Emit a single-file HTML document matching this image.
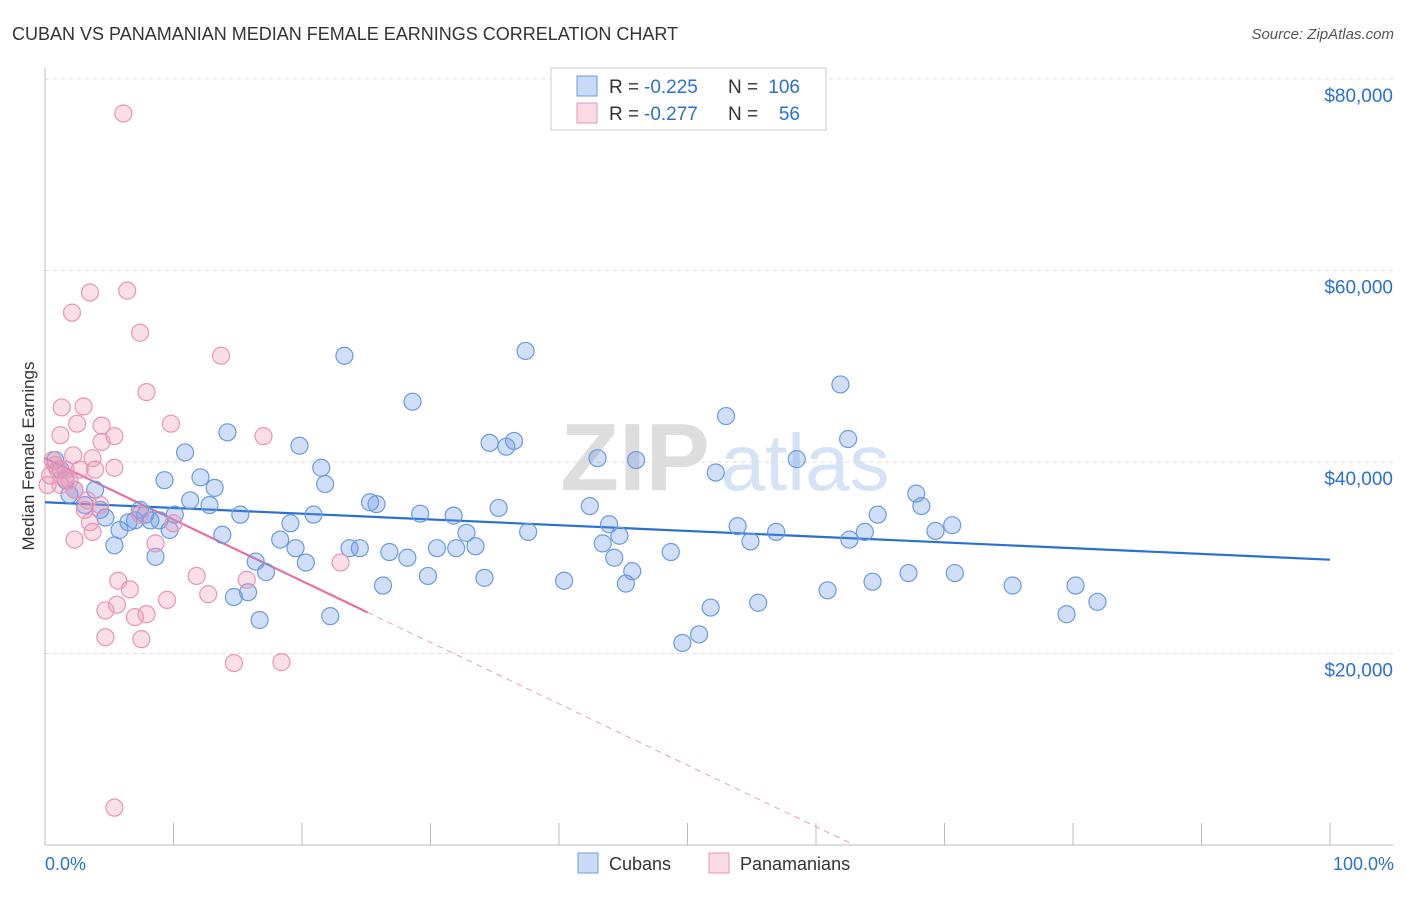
<!DOCTYPE html>
<html><head><meta charset="utf-8"><style>
body{margin:0;background:#fff;font-family:"Liberation Sans",sans-serif;}
svg text{font-family:"Liberation Sans",sans-serif;}
</style></head><body>
<svg id="chart" width="1406" height="892" xmlns="http://www.w3.org/2000/svg">
<text x="12" y="40" font-size="18" fill="#333">CUBAN VS PANAMANIAN MEDIAN FEMALE EARNINGS CORRELATION CHART</text>
<text x="1394" y="39" font-size="15" fill="#555" text-anchor="end" font-style="italic">Source: ZipAtlas.com</text>
<text transform="translate(34,456) rotate(-90)" font-size="17" fill="#333" text-anchor="middle">Median Female Earnings</text>
<g font-size="96" text-anchor="middle">
<text x="635" y="490" fill="#ddd" font-family="Liberation Serif" font-weight="bold">ZIP</text>
<text x="805" y="490" fill="#d4e3f6" font-size="80">atlas</text>
</g>
<g id="grid"></g><g id="axes"></g><g id="lines"></g><g id="pts"></g>
<g font-size="19">
<rect x="551" y="68" width="275" height="62" fill="#fff" stroke="#ccc"/>
<rect x="577" y="76" width="20" height="20" fill="rgba(100,150,230,0.35)" stroke="#6a9be0"/>
<rect x="577" y="103" width="20" height="20" fill="rgba(240,150,180,0.35)" stroke="#e994b4"/>
<text x="609" y="93" fill="#333">R =</text>
<text x="644" y="93" fill="#2a6fd6">-0.225</text>
<text x="728" y="93" fill="#333">N =</text>
<text x="800" y="93" fill="#2a6fd6" text-anchor="end">106</text>
<text x="609" y="120" fill="#333">R =</text>
<text x="644" y="120" fill="#2a6fd6">-0.277</text>
<text x="728" y="120" fill="#333">N =</text>
<text x="800" y="120" fill="#2a6fd6" text-anchor="end">56</text>
</g>
<g>
<rect x="578" y="853" width="20" height="20" fill="rgba(100,150,230,0.35)" stroke="#6a9be0"/>
<text x="609" y="870" font-size="18" fill="#333">Cubans</text>
<rect x="709" y="853" width="20" height="20" fill="rgba(240,150,180,0.35)" stroke="#e994b4"/>
<text x="740" y="870" font-size="18" fill="#333">Panamanians</text>
</g>
</svg>
<script>
const yTicks=[20000,40000,60000,80000];
const yTickLabels=["$20,000","$40,000","$60,000","$80,000"];
const xTickLabels=["0.0%","100.0%"];
const cubanX=[0.8,1.2,1.6,1.9,2.3,3.1,3.9,4.3,4.7,5.4,5.8,6.5,7.0,7.4,7.8,8.2,8.6,8.9,9.3,9.7,10.1,10.9,11.3,12.1,12.8,13.2,13.8,14.2,14.7,15.2,15.8,16.4,16.7,17.2,18.3,19.1,19.5,19.8,20.3,20.9,21.5,21.8,22.2,23.3,23.7,24.5,25.3,25.8,26.3,26.8,28.2,28.6,29.2,29.8,30.5,31.8,32.0,32.8,33.5,34.2,34.6,35.3,35.9,36.5,37.4,37.6,40.4,42.4,43.0,43.4,43.9,44.3,44.7,45.2,45.7,46.0,48.7,49.6,50.9,51.8,52.2,53.0,53.9,54.9,55.5,56.9,58.5,60.9,61.9,62.5,62.6,63.8,64.4,64.8,67.2,67.8,68.2,69.3,70.6,70.8,75.3,79.5,80.2,81.9];
const cubanY=[40200,39200,38100,36600,37100,35500,37100,35000,34200,31300,32900,33700,33900,35000,34500,33900,30100,33900,38100,32900,34500,41000,36000,38400,35500,37300,32400,43100,25900,34500,26400,29600,23500,28500,31900,33600,31000,41700,29500,34500,39400,37700,23900,51100,31000,31000,35800,35600,27100,30600,30000,46300,34600,28100,31000,34400,31000,32600,31200,27900,42000,35200,41600,42200,51600,32700,27600,35400,40400,31500,33500,30000,32300,27300,28600,40200,30600,21100,22000,24800,38900,44800,33300,31700,25300,32700,40300,26600,48100,42400,31900,32700,27500,34500,28400,36700,35400,32800,33400,28400,27100,24100,27100,25400];
const panX=[6.1,3.5,6.4,2.1,7.4,13.7,7.9,1.3,3.0,9.8,2.5,4.4,5.4,17.0,4.4,1.2,3.7,2.2,2.7,5.4,0.8,0.4,1.2,2.3,3.3,1.6,1.9,4.3,3.5,3.7,7.4,10.0,2.3,8.6,11.8,5.7,15.7,6.6,12.7,9.5,5.6,4.7,7.9,7.0,23.0,4.7,7.5,14.7,18.4,5.4,0.6,1.0,0.2,1.6,3.1,3.9];
const panY=[76400,57700,57900,55600,53500,51100,47300,45700,45800,44000,44000,43800,42700,42700,42100,42800,40400,40700,39200,39400,39700,38600,37600,37100,36000,39200,38100,35500,33700,32700,34500,33600,31900,31500,28100,27600,27700,26700,26200,25600,25100,24500,24100,23800,29500,21700,21500,19000,19100,3900,40200,39200,37600,38300,35000,39200];
const cubanTrend=[35800,29800];
const panTrend=[40400,24300];
const panTrendEndX=25.1;

const NS="http://www.w3.org/2000/svg";
const X0=45,X1=1330,Y0=845,YPER=191.5/20000;
const sx=v=>X0+(X1-X0)*v/100, sy=v=>Y0-v*YPER;
function mk(tag,attrs,parent){const e=document.createElementNS(NS,tag);for(const k in attrs)e.setAttribute(k,attrs[k]);document.getElementById(parent).appendChild(e);return e;}
yTicks.forEach((t,i)=>{
 const g=mk('line',{x1:X0,x2:1393,y1:sy(t),y2:sy(t),stroke:'#ddd','stroke-dasharray':'4,4'},'grid');
 
 
 const l=mk('text',{x:1393,y:sy(t)+23,'font-size':19,fill:'#2a6fd6','text-anchor':'end'},'grid');
 l.textContent=yTickLabels[i];
 
 
});
mk('line',{x1:X0,x2:X0,y1:68,y2:Y0,stroke:'#bbb'},'axes');
mk('line',{x1:X0,x2:1393,y1:Y0,y2:Y0,stroke:'#bbb'},'axes');
for(let i=0;i<=10;i++){const t=mk('line',{x1:sx(i*10),x2:sx(i*10),y1:823,y2:Y0,stroke:'#bbb'},'axes');
 
 }
[[0,'start',45],[100,'end',1394]].forEach((d,i)=>{const t=mk('text',{x:d[2],y:870,'font-size':18,fill:'#2a6fd6','text-anchor':d[1]},'axes');t.textContent=xTickLabels[i];
 
 });
cubanX.forEach((x,i)=>{const c=mk('circle',{cx:sx(x),cy:sy(cubanY[i]),r:8.5,fill:'rgba(100,150,230,0.3)',stroke:'#6a9be0','stroke-width':1.2},'pts');
 
 });
panX.forEach((x,i)=>{const c=mk('circle',{cx:sx(x),cy:sy(panY[i]),r:8.5,fill:'rgba(240,150,180,0.3)',stroke:'#e994b4','stroke-width':1.2},'pts');
 
 });
const bl=mk('line',{x1:sx(0),y1:sy(cubanTrend[0]),x2:sx(100),y2:sy(cubanTrend[1]),stroke:'#2a6fd6','stroke-width':2.2},'lines');


const slope=(panTrend[1]-panTrend[0])/panTrendEndX;
const zeroX=-panTrend[0]/slope;
const pl=mk('line',{x1:sx(0),y1:sy(panTrend[0]),x2:sx(panTrendEndX),y2:sy(panTrend[1]),stroke:'#e8709a','stroke-width':2.2},'lines');


const pd=mk('line',{x1:sx(panTrendEndX),y1:sy(panTrend[1]),x2:sx(zeroX),y2:sy(0),stroke:'#e8a0b8','stroke-width':1,'stroke-dasharray':'6,5'},'lines');


</script>
</body></html>
